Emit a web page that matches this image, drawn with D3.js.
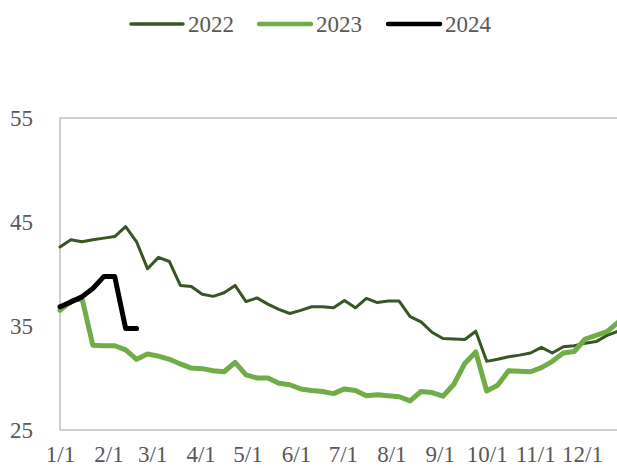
<!DOCTYPE html>
<html>
<head>
<meta charset="utf-8">
<script src="https://cdn.jsdelivr.net/npm/d3@7"></script>
<style>
  body { margin: 0; background: #fff; }
  text { font-family: "Liberation Serif", "Times New Roman", serif; fill: #595959; }
</style>
</head>
<body>
<div id="chart"></div>
<script>
// Series names and weekly values (one value per week starting 1/1)
var seriesNames = ["2022", "2023", "2024"];
var seriesColors = ["#375623", "#70ad47", "#000000"];
var seriesWidths = [3, 5, 5];
var legendWidths = [3.5, 4.5, 4.5];

var values2022 = [42.6, 43.3, 43.1, 43.3, 43.45, 43.6, 44.55, 43.1, 40.5, 41.6,
  41.2, 38.9, 38.8, 38.05, 37.85, 38.2, 38.9, 37.35, 37.7, 37.1,
  36.6, 36.2, 36.5, 36.85, 36.85, 36.75, 37.45, 36.75, 37.65, 37.25,
  37.4, 37.4, 35.9, 35.4, 34.4, 33.8, 33.75, 33.7, 34.5, 31.6,
  31.8, 32.05, 32.2, 32.4, 32.95, 32.4, 33.0, 33.1, 33.35, 33.5,
  34.1, 34.5];

var values2023 = [36.5, 37.4, 37.7, 33.15, 33.1, 33.1, 32.7, 31.8, 32.3, 32.1,
  31.8, 31.35, 30.95, 30.9, 30.7, 30.6, 31.5, 30.3, 30.0, 30.0,
  29.5, 29.35, 28.95, 28.8, 28.7, 28.5, 28.95, 28.8, 28.3, 28.4,
  28.3, 28.2, 27.8, 28.7, 28.6, 28.25, 29.4, 31.4, 32.5, 28.75,
  29.3, 30.7, 30.65, 30.6, 31.0, 31.6, 32.4, 32.55, 33.75, 34.1,
  34.45, 35.35];

var values2024 = [36.85, 37.3, 37.8, 38.6, 39.75, 39.75, 34.75, 34.75];

var yTicks = [25, 35, 45, 55];

// SVG area
var svgWidth = 617;
var svgHeight = 468;

var svg = d3.select("#chart")
  .append("svg")
  .attr("width", svgWidth)
  .attr("height", svgHeight);

// x is a date scale over one year, plot runs past the right edge
var yearStart = new Date(2022, 0, 1);
var yearEnd = new Date(2023, 0, 1);
var xScale = d3.scaleTime()
  .domain([yearStart, yearEnd])
  .range([60, 60 + 365 * 1.563]);

var yScale = d3.scaleLinear()
  .domain([25, 55])
  .range([430, 118]);

function weekDate(i) {
  return d3.timeDay.offset(yearStart, i * 7);
}

// plot area border
svg.append("rect")
  .attr("x", xScale(yearStart))
  .attr("y", yScale(55))
  .attr("width", xScale(yearEnd) - xScale(yearStart) + 20)
  .attr("height", yScale(25) - yScale(55))
  .attr("fill", "none")
  .attr("stroke", "#bfbfbf")
  .attr("stroke-width", 1.5);

// y axis labels
var leftAxis = d3.axisLeft(yScale)
  .tickValues(yTicks)
  .tickSize(0)
  .tickPadding(27);

svg.append("g")
  .attr("transform", `translate(${xScale(yearStart)}, 0)`)
  .call(leftAxis)
  .call(g => g.select(".domain").remove())
  .selectAll("text")
  .style("font-family", "'Liberation Serif', serif")
  .style("font-size", "23px")
  .attr("fill", "#595959");

// x axis labels at month starts
var bottomAxis = d3.axisBottom(xScale)
  .tickValues(d3.timeMonth.range(yearStart, new Date(2022, 11, 2)))
  .tickFormat(d3.timeFormat("%-m/%-d"))
  .tickSize(0)
  .tickPadding(16);

svg.append("g")
  .attr("transform", `translate(0, ${yScale(25)})`)
  .call(bottomAxis)
  .call(g => g.select(".domain").remove())
  .selectAll("text")
  .style("font-family", "'Liberation Serif', serif")
  .style("font-size", "23px")
  .attr("fill", "#595959");

// lines
var line = d3.line()
  .x((d, i) => xScale(weekDate(i)))
  .y(d => yScale(d));

var allSeries = [values2022, values2023, values2024];

svg.append("g")
  .selectAll("path")
  .data(allSeries)
  .enter()
  .append("path")
  .attr("d", d => line(d))
  .attr("fill", "none")
  .attr("stroke", (d, i) => seriesColors[i])
  .attr("stroke-width", (d, i) => seriesWidths[i])
  .attr("stroke-linejoin", "round")
  .attr("stroke-linecap", "round");

// legend
var legendX = [131, 259, 388];
var legend = svg.append("g")
  .selectAll("g")
  .data(seriesNames)
  .enter()
  .append("g")
  .attr("transform", (d, i) => `translate(${legendX[i]}, 24)`);

legend.append("line")
  .attr("x1", 0)
  .attr("x2", 52)
  .attr("y1", 0)
  .attr("y2", 0)
  .attr("stroke", (d, i) => seriesColors[i])
  .attr("stroke-width", (d, i) => legendWidths[i])
  .attr("stroke-linecap", "round");

legend.append("text")
  .attr("x", 57)
  .attr("y", 8)
  .style("font-size", "23px")
  .text(d => d);
</script>
</body>
</html>
